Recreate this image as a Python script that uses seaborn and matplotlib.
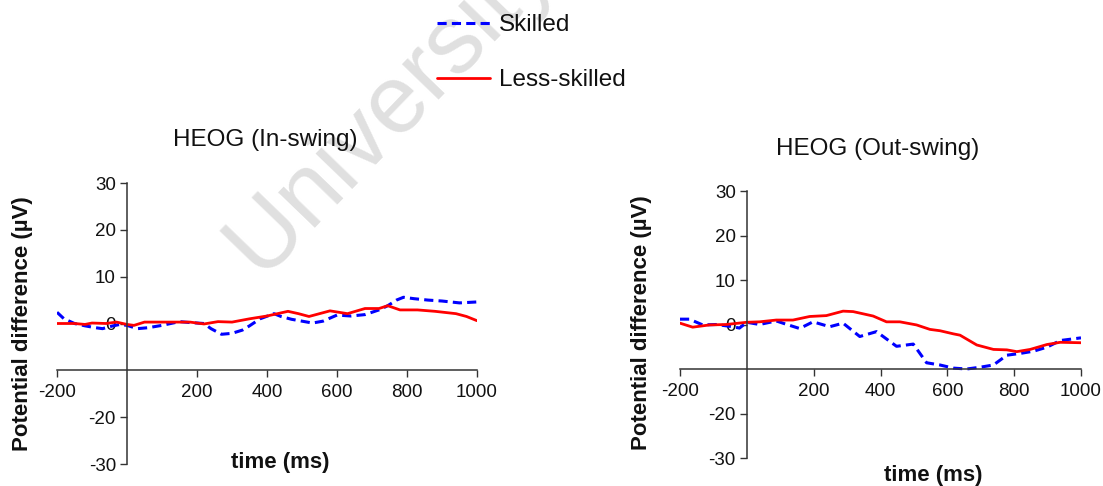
import matplotlib
matplotlib.use("Agg")
import matplotlib.pyplot as plt
import seaborn as sns

# ---- HEOG (In-swing) ----
in_skilled_t = [-200, -180, -150, -120, -90, -70, -40, -20, 0, 30, 60, 100, 150, 180,
                220, 240, 270, 300, 330, 350, 380, 420, 440, 470, 500, 530, 560, 600,
                640, 680, 720, 745, 770, 790, 820, 860, 900, 950, 1000]
in_skilled_v = [2.4, 1.0, 0.0, -0.5, -0.9, -1.1, -0.5, -0.2, -0.4, -1.1, -0.9, -0.4, 0.4, 0.2,
                0.0, -1.1, -2.3, -2.1, -1.4, -0.5, 1.0, 2.1, 1.5, 0.9, 0.5, 0.1, 0.5, 1.8,
                1.6, 1.9, 2.9, 3.8, 5.0, 5.6, 5.3, 5.0, 4.8, 4.4, 4.6]
in_less_t = [-200, -150, -120, -100, -60, -30, 0, 20, 50, 100, 150, 180, 220, 260, 300,
             350, 400, 430, 460, 490, 520, 550, 580, 630, 680, 720, 745, 780, 830, 880,
             940, 970, 1000]
in_less_v = [0.0, 0.0, -0.2, 0.1, 0.0, 0.3, -0.2, -0.4, 0.3, 0.3, 0.3, 0.3, -0.1, 0.4, 0.3,
             1.0, 1.6, 2.1, 2.6, 2.1, 1.5, 2.1, 2.7, 2.1, 3.2, 3.2, 3.8, 2.9, 2.9, 2.6,
             2.1, 1.5, 0.6]

# ---- HEOG (Out-swing) ----
out_skilled_t = [-200, -172, -132, -92, -42, -22, 0, 38, 88, 120, 158, 198, 248, 288, 338,
                 388, 448, 498, 538, 578, 618, 658, 698, 738, 778, 818, 858, 898, 938, 1000]
out_skilled_v = [1.2, 1.2, -0.1, 0.0, -0.5, -0.8, 0.5, 0.0, 0.8, 0.0, -0.9, 0.6, -0.5, 0.3, -2.7,
                 -1.6, -4.9, -4.4, -8.6, -9.1, -9.8, -10.0, -9.6, -9.1, -6.9, -6.5, -6.0, -5.1,
                 -3.6, -3.0]
out_less_t = [-200, -162, -112, -62, 0, 38, 88, 138, 188, 238, 288, 318, 378, 418, 458, 508,
              548, 578, 618, 638, 688, 738, 778, 808, 848, 898, 938, 1000]
out_less_v = [0.3, -0.6, -0.1, 0.0, 0.5, 0.6, 1.0, 1.0, 1.8, 2.0, 3.0, 2.9, 1.9, 0.6, 0.6, -0.1,
              -1.1, -1.4, -2.1, -2.4, -4.6, -5.6, -5.7, -6.1, -5.6, -4.5, -4.0, -4.1]

x_ticks = [-200, 200, 400, 600, 800, 1000]
x_tick_labels = ["-200", "200", "400", "600", "800", "1000"]
y_ticks = [-30, -20, 0, 10, 20, 30]
y_tick_labels = ["-30", "-20", "0", "10", "20", "30"]
series_labels = ["Skilled", "Less-skilled"]

sns.set_theme(style="white")
plt.rcParams["font.family"] = ["Liberation Sans", "DejaVu Sans"]

W, H = 1103, 486
fig = plt.figure(figsize=(W / 100, H / 100), dpi=100)


def px_rect(x0, x1, ytop, ybot):
    return [x0 / W, 1 - ybot / H, (x1 - x0) / W, (ybot - ytop) / H]


BLUE = "#0000ff"
RED = "#ff0000"
AXCOL = "#333333"


def draw_panel(ax, t_sk, v_sk, t_ls, v_ls, title, title_xy, xlab_xy, ylab_xy):
    ax.set_facecolor("none")
    sns.lineplot(x=t_sk, y=v_sk, ax=ax, color=BLUE, lw=2.2,
                 linestyle=(0, (3, 1.7)), legend=False)
    sns.lineplot(x=t_ls, y=v_ls, ax=ax, color=RED, lw=2.0, legend=False)

    ax.set_xlim(-200, 1000)
    ax.set_ylim(-30, 30)
    for s in ("top", "right"):
        ax.spines[s].set_visible(False)
    ax.spines["left"].set_position(("data", 0))
    ax.spines["bottom"].set_position(("data", -10))
    for s in ("left", "bottom"):
        ax.spines[s].set_color(AXCOL)
        ax.spines[s].set_linewidth(1.1)

    ax.set_xticks(x_ticks)
    ax.set_xticklabels(x_tick_labels)
    ax.set_yticks(y_ticks)
    ax.set_yticklabels(y_tick_labels)
    ax.tick_params(axis="both", direction="out", length=5, width=1.0,
                   color=AXCOL, labelcolor="#111111", labelsize=13.5)
    ax.tick_params(axis="x", pad=5, bottom=True)
    ax.tick_params(axis="y", pad=3, left=True)

    ax.set_title(title, x=title_xy[0], y=title_xy[1], va="center",
                 fontsize=17.5, pad=0, color="#111111")
    ax.set_xlabel("time (ms)", fontsize=16, fontweight="bold", color="#111111")
    ax.xaxis.set_label_coords(*xlab_xy)
    ax.xaxis.label.set_va("center")
    ax.set_ylabel("Potential difference (µV)", fontsize=16, fontweight="bold",
                  color="#111111")
    ax.yaxis.set_label_coords(*ylab_xy)
    ax.yaxis.label.set_va("center")


ax1 = fig.add_axes(px_rect(57, 477, 183, 464))
draw_panel(ax1, in_skilled_t, in_skilled_v, in_less_t, in_less_v, "HEOG (In-swing)",
           (0.495, 1.153), (0.531, 0.004), (-0.083, 0.498))

ax2 = fig.add_axes(px_rect(680, 1081, 191, 458))
draw_panel(ax2, out_skilled_t, out_skilled_v, out_less_t, out_less_v, "HEOG (Out-swing)",
           (0.494, 1.158), (0.631, -0.064), (-0.097, 0.506))

# shared legend at the top centre
handles = [ax1.lines[0], ax1.lines[1]]
fig.legend(handles, series_labels, loc="upper left",
           bbox_to_anchor=(437 / W, 1 - 14 / H), frameon=False, fontsize=17.5,
           handlelength=2.2, handletextpad=0.35, labelspacing=1.37,
           borderpad=0, borderaxespad=0, labelcolor="#111111")

# faint watermark behind everything
fig.text(390 / W, 1 - 106 / H, "University", rotation=46, fontsize=70,
         color="#e0e0e0", ha="center", va="center", rotation_mode="anchor",
         zorder=-1)

fig.savefig("out.png", dpi=100, facecolor="white")
